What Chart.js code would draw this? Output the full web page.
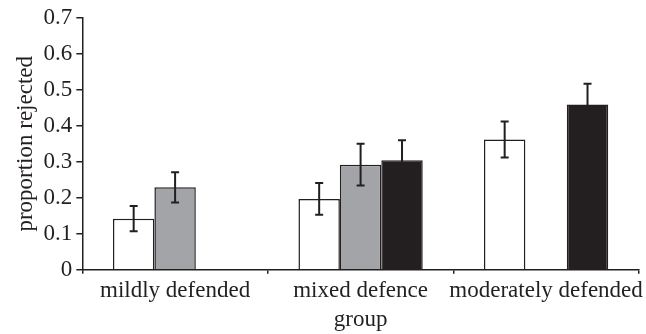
<!DOCTYPE html>
<html>
<head>
<meta charset="utf-8">
<script src="https://cdn.jsdelivr.net/npm/chart.js@4.4.0/dist/chart.umd.min.js"></script>
<style>
html,body{margin:0;padding:0;background:#fff;}
#wrap{width:646px;height:334px;}
</style>
</head>
<body>
<div id="wrap"><canvas id="c" width="646" height="334"></canvas></div>
<script>
const categories = ["mildly defended", "mixed defence", "moderately defended"];
const whiteValues = [0.142, 0.197, 0.362];
const greyValues = [0.229, 0.292, null];
const blackValues = [null, 0.304, 0.459];
const whiteErrors = [0.035, 0.044, 0.050];
const greyErrors = [0.042, 0.058, null];
const blackErrors = [null, 0.056, 0.058];
const yTicks = [0, 0.1, 0.2, 0.3, 0.4, 0.5, 0.6, 0.7];

const ink = '#231f20';
const font = {family: '"Liberation Serif", "Times New Roman", serif', size: 23};

const errorBars = {
  id: 'errorBars',
  afterDatasetsDraw(chart) {
    const ctx = chart.ctx;
    const y = chart.scales.y;
    chart.data.datasets.forEach((ds, i) => {
      const meta = chart.getDatasetMeta(i);
      meta.data.forEach((bar, j) => {
        const v = ds.data[j], e = ds.errors[j];
        if (v == null || e == null) return;
        const x = bar.x;
        const top = y.getPixelForValue(v + e);
        const bot = y.getPixelForValue(v - e);
        ctx.save();
        ctx.strokeStyle = ink;
        ctx.lineWidth = 2;
        ctx.beginPath();
        ctx.moveTo(x, top); ctx.lineTo(x, bot);
        ctx.moveTo(x - 4, top); ctx.lineTo(x + 4, top);
        ctx.moveTo(x - 4, bot); ctx.lineTo(x + 4, bot);
        ctx.stroke();
        ctx.restore();
      });
    });
  }
};

new Chart(document.getElementById('c'), {
  type: 'bar',
  data: {
    labels: categories,
    datasets: [
      {data: whiteValues, errors: whiteErrors, backgroundColor: '#ffffff', borderColor: ink, borderWidth: 1.5},
      {data: greyValues, errors: greyErrors, backgroundColor: '#a2a4a7', borderColor: ink, borderWidth: 1.5},
      {data: blackValues, errors: blackErrors, backgroundColor: ink, borderColor: ink, borderWidth: 1.5}
    ]
  },
  options: {
    responsive: false,
    animation: false,
    devicePixelRatio: 1,
    layout: {padding: {left: 12, right: 1, top: 5, bottom: 0}},
    plugins: {legend: {display: false}, tooltip: {enabled: false}},
    datasets: {bar: {categoryPercentage: 0.67, barPercentage: 1.0}},
    scales: {
      x: {
        grid: {display: true, drawOnChartArea: false, drawTicks: true, tickLength: 4, color: ink, lineWidth: 1.5},
        border: {display: true, color: ink, width: 1.5},
        ticks: {color: ink, font: font, padding: 3, maxRotation: 0, autoSkip: false},
        title: {display: true, text: 'group', color: ink, font: font, padding: {top: -1, bottom: 0}}
      },
      y: {
        min: 0, max: 0.7,
        afterBuildTicks(scale) { scale.ticks = yTicks.map(v => ({value: v})); },
        grid: {display: true, drawOnChartArea: false, drawTicks: true, tickLength: 6, color: ink, lineWidth: 1.5},
        border: {display: true, color: ink, width: 1.5},
        ticks: {color: ink, font: font, padding: 4, callback: v => (v === 0 ? '0' : v.toFixed(1))},
        title: {display: true, text: 'proportion rejected', color: ink, font: font, padding: {top: 0, bottom: 0}}
      }
    }
  },
  plugins: [errorBars]
});
</script>
</body>
</html>
